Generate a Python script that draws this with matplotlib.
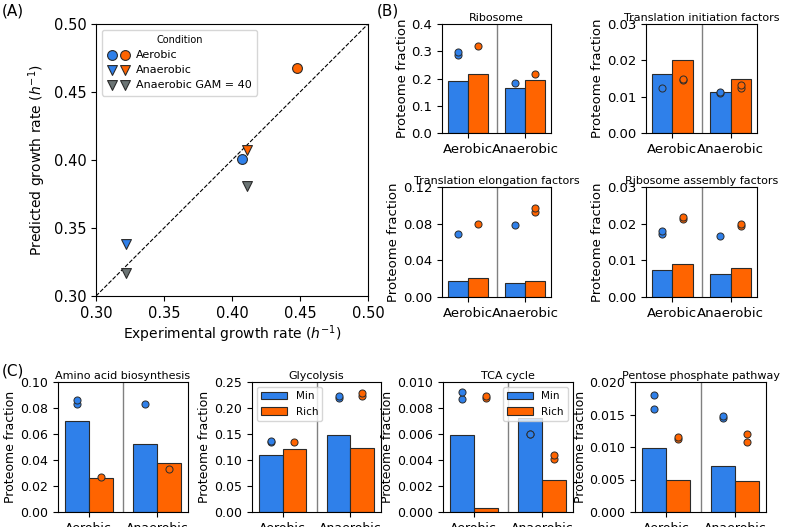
import matplotlib
matplotlib.use("Agg")
import matplotlib.pyplot as plt
import numpy as np
from matplotlib.legend_handler import HandlerTuple

BLUE = "#2f80ea"
ORANGE = "#ff6400"
GREY = "#6b7474"
EDGE = "#2b2b2b"

# panel A: (experimental, predicted) growth rates
aer_min = (0.407, 0.401)
aer_rich = (0.448, 0.468)
ana_min = (0.322, 0.338)
ana_rich = (0.411, 0.407)
gam_min = (0.322, 0.317)
gam_rich = (0.411, 0.381)

conditions = ["Aerobic", "Anaerobic"]

# bar panels: model bars [min, rich] per condition, data points per condition
ribosome_bars = [[0.190, 0.215], [0.165, 0.194]]
ribosome_pts = [[[0.285, 0.297], [0.320]], [[0.183], [0.218]]]

init_bars = [[0.0163, 0.0201], [0.0113, 0.0149]]
init_pts = [[[0.0124], [0.0147, 0.0149]], [[0.0110, 0.0112], [0.0125, 0.0132]]]

elong_bars = [[0.018, 0.021], [0.015, 0.018]]
elong_pts = [[[0.069], [0.080]], [[0.079], [0.093, 0.097]]]

assembly_bars = [[0.0073, 0.0090], [0.0062, 0.0080]]
assembly_pts = [[[0.0171, 0.0181], [0.0212, 0.0219]], [[0.0165], [0.0193, 0.0198]]]

amino_bars = [[0.070, 0.026], [0.052, 0.038]]
amino_pts = [[[0.083, 0.086], [0.027]], [[0.083], [0.033]]]

glyc_bars = [[0.110, 0.122], [0.149, 0.124]]
glyc_pts = [[[0.134, 0.136], [0.134]], [[0.219, 0.224], [0.223, 0.228]]]

tca_bars = [[0.0059, 0.0003], [0.0072, 0.0025]]
tca_pts = [[[0.0087, 0.0092], [0.0088, 0.0089]], [[0.0060, 0.0060], [0.0041, 0.0044]]]

ppp_bars = [[0.0098, 0.0050], [0.0071, 0.0047]]
ppp_pts = [[[0.0158, 0.0180], [0.0113, 0.0115]], [[0.0145, 0.0148], [0.0107, 0.0120]]]

W, H = 786, 527
fig = plt.figure(figsize=(W / 100, H / 100), dpi=100)


def px_axes(left, top, right, bottom):
    return fig.add_axes([left / W, 1 - bottom / H, (right - left) / W, (bottom - top) / H])


# ---- panel A ----
ax = px_axes(96, 24, 368, 296)
ax.plot([0.3, 0.5], [0.3, 0.5], ls="--", color="k", lw=0.8, zorder=1)
kw = dict(s=50, edgecolors=EDGE, linewidths=0.8, zorder=3)
h1 = ax.scatter(*aer_min, color=BLUE, marker="o", **kw)
h2 = ax.scatter(*aer_rich, color=ORANGE, marker="o", **kw)
h3 = ax.scatter(*ana_min, color=BLUE, marker="v", **kw)
h4 = ax.scatter(*ana_rich, color=ORANGE, marker="v", **kw)
h5 = ax.scatter(*gam_min, color=GREY, marker="v", **kw)
h6 = ax.scatter(*gam_rich, color=GREY, marker="v", **kw)
ax.set_xlim(0.3, 0.5)
ax.set_ylim(0.3, 0.5)
ticks = [0.30, 0.35, 0.40, 0.45, 0.50]
ax.set_xticks(ticks)
ax.set_yticks(ticks)
ax.tick_params(labelsize=10.5)
ax.set_xlabel("Experimental growth rate ($h^{-1}$)", fontsize=10, labelpad=2)
ax.set_ylabel("Predicted growth rate ($h^{-1}$)", fontsize=10)
leg = ax.legend([(h1, h2), (h3, h4), (h5, h6)],
                ["Aerobic", "Anaerobic", "Anaerobic GAM = 40"],
                handler_map={tuple: HandlerTuple(ndivide=None, pad=0.4)},
                title="Condition", title_fontsize=7, fontsize=8,
                loc="upper left", handlelength=2.0, handletextpad=0.6,
                borderpad=0.5, labelspacing=0.45)

# ---- bar panels ----
xpos = np.arange(len(conditions))
bw = 0.35


def bar_panel(box, title, bars, pts, ylim, yticks, yfmt, fs=9.5, legend=None):
    a = px_axes(*box)
    bars = np.array(bars)
    a.bar(xpos - bw / 2, bars[:, 0], bw, color=BLUE, edgecolor=EDGE, lw=0.8, label="Min", zorder=2)
    a.bar(xpos + bw / 2, bars[:, 1], bw, color=ORANGE, edgecolor=EDGE, lw=0.8, label="Rich", zorder=2)
    for i, cond in enumerate(pts):
        for j, vals in enumerate(cond):
            xs = np.full(len(vals), xpos[i] + (j - 0.5) * bw)
            a.scatter(xs, vals, s=26, color=[BLUE, ORANGE][j], edgecolors=EDGE,
                      linewidths=0.7, zorder=3)
    a.axvline(0.5, color="grey", lw=1.0, zorder=1)
    a.set_xlim(-0.45, 1.45)
    a.set_ylim(*ylim)
    a.set_yticks(yticks)
    a.set_yticklabels([yfmt.format(v) for v in yticks])
    a.set_xticks(xpos)
    a.set_xticklabels(conditions)
    a.tick_params(labelsize=fs)
    a.set_title(title, fontsize=8, pad=2)
    a.set_ylabel("Proteome fraction", fontsize=fs, labelpad=2)
    if legend:
        a.legend(loc=legend, fontsize=7.5, handlelength=2.5)
    return a


bar_panel((442, 24, 551, 133), "Ribosome", ribosome_bars, ribosome_pts,
          (0, 0.4), [0, 0.1, 0.2, 0.3, 0.4], "{:.1f}")
bar_panel((646, 24, 757, 133), "Translation initiation factors", init_bars, init_pts,
          (0, 0.03), [0, 0.01, 0.02, 0.03], "{:.2f}")
bar_panel((442, 187, 551, 297), "Translation elongation factors", elong_bars, elong_pts,
          (0, 0.12), [0, 0.04, 0.08, 0.12], "{:.2f}")
bar_panel((646, 187, 757, 297), "Ribosome assembly factors", assembly_bars, assembly_pts,
          (0, 0.03), [0, 0.01, 0.02, 0.03], "{:.2f}")

bar_panel((58, 382, 188, 512), "Amino acid biosynthesis", amino_bars, amino_pts,
          (0, 0.1), [0, 0.02, 0.04, 0.06, 0.08, 0.10], "{:.2f}", fs=9)
bar_panel((252, 382, 381, 512), "Glycolysis", glyc_bars, glyc_pts,
          (0, 0.25), [0, 0.05, 0.10, 0.15, 0.20, 0.25], "{:.2f}", fs=9, legend="upper left")
bar_panel((443, 382, 573, 512), "TCA cycle", tca_bars, tca_pts,
          (0, 0.01), [0, 0.002, 0.004, 0.006, 0.008, 0.010], "{:.3f}", fs=9, legend="upper right")
bar_panel((635, 382, 766, 512), "Pentose phosphate pathway", ppp_bars, ppp_pts,
          (0, 0.02), [0, 0.005, 0.010, 0.015, 0.020], "{:.3f}", fs=9)

fig.text(2 / W, 1 - 4 / H, "(A)", fontsize=11, va="top", ha="left")
fig.text(377 / W, 1 - 4 / H, "(B)", fontsize=11, va="top", ha="left")
fig.text(2 / W, 1 - 364 / H, "(C)", fontsize=11, va="top", ha="left")

fig.savefig("out.png", dpi=100)
